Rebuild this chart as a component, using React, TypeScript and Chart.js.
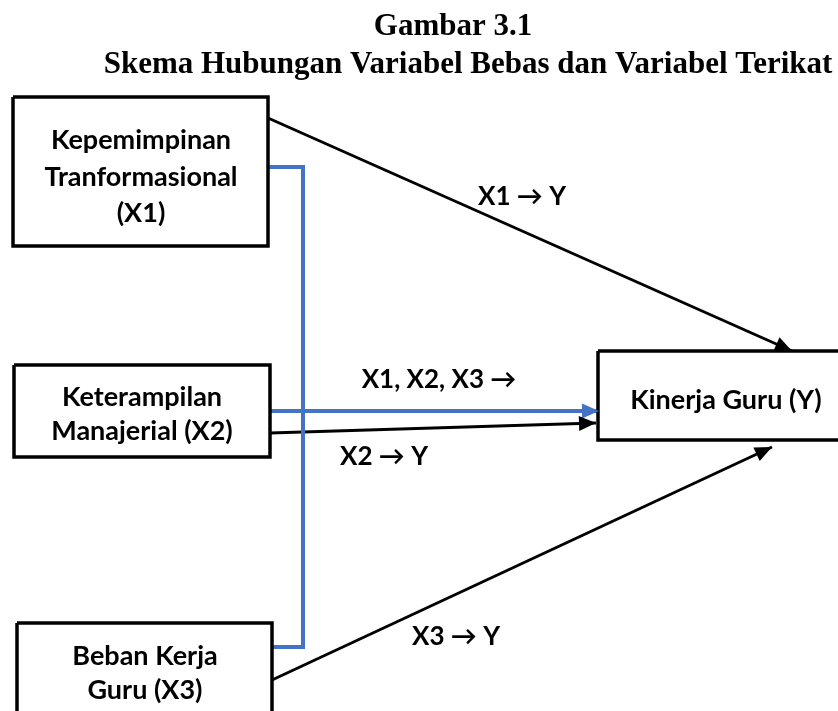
import React, { useEffect, useRef } from "react";
import { Chart, registerables } from "chart.js";

Chart.register(...registerables);

// Diagram nodes (box corners, in diagram units = canvas px space 838x711)
const boxNames = ["X1", "X2", "X3", "Y"];
const boxLeft = [13, 14, 17, 598];
const boxRight = [268, 270, 272, 850];
const boxTop = [97, 365, 623, 351];
const boxBottom = [246, 457, 725, 440];

// Box texts
const boxTextLines = [
  ["Kepemimpinan", "Tranformasional", "(X1)"],
  ["Keterampilan", "Manajerial (X2)"],
  ["Beban Kerja", "Guru (X3)"],
  ["Kinerja Guru (Y)"],
];
const boxTextCenterX = [141, 142, 145, 726];
const boxTextLineY = [
  [140, 177, 213],
  [397, 431],
  [656, 690],
  [400],
];

// Black arrows (partial relationships)
const arrowNames = ["X1 → Y", "X2 → Y", "X3 → Y"];
const arrowFromX = [268, 270, 272];
const arrowFromY = [118, 433, 680];
const arrowToX = [792, 596, 772];
const arrowToY = [351, 423, 447];

// Blue bracket (simultaneous relationship)
const bracketX = [268, 303, 303, 272];
const bracketY = [167, 167, 647, 647];
const simX = [270, 599];
const simY = [411, 411];

// Edge labels
const edgeLabels = ["X1 → Y", "X1, X2, X3 →", "X2 → Y", "X3 → Y"];
const edgeLabelX = [522, 439, 384, 456];
const edgeLabelY = [197, 380, 457, 637];

// Titles
const titleLines = ["Gambar 3.1", "Skema Hubungan Variabel Bebas dan Variabel Terikat"];
const titleX = [453, 468];
const titleBaseY = [35, 73];

const BLACK = "#000000";
const BLUE = "#4472C4";

export default function App() {
  const ref = useRef<HTMLCanvasElement | null>(null);

  useEffect(() => {
    document.body.style.margin = "0";
    const canvas = ref.current;
    if (!canvas) return;

    const datasets: any[] = [];
    boxNames.forEach((n, i) => {
      datasets.push({
        label: "box " + n,
        data: [
          { x: boxLeft[i], y: boxTop[i] },
          { x: boxRight[i], y: boxTop[i] },
          { x: boxRight[i], y: boxBottom[i] },
          { x: boxLeft[i], y: boxBottom[i] },
          { x: boxLeft[i], y: boxTop[i] },
        ],
        borderColor: BLACK,
        borderWidth: 3.5,
        showLine: true,
        pointRadius: 0,
        fill: false,
        tension: 0,
        borderJoinStyle: "miter",
        backgroundColor: "#ffffff",
      });
    });
    datasets.push({
      label: "bracket",
      data: bracketX.map((x, i) => ({ x, y: bracketY[i] })),
      borderColor: BLUE,
      borderWidth: 4,
      showLine: true,
      pointRadius: 0,
      borderJoinStyle: "miter",
    });
    datasets.push({
      label: "X1, X2, X3 → Y",
      data: simX.map((x, i) => ({ x, y: simY[i] })),
      borderColor: BLUE,
      borderWidth: 4,
      showLine: true,
      pointRadius: 0,
      arrow: true,
    });
    arrowNames.forEach((n, i) => {
      datasets.push({
        label: n,
        data: [
          { x: arrowFromX[i], y: arrowFromY[i] },
          { x: arrowToX[i], y: arrowToY[i] },
        ],
        borderColor: BLACK,
        borderWidth: 3,
        showLine: true,
        pointRadius: 0,
        arrow: true,
      });
    });

    const arrowPlugin = {
      id: "arrowHeads",
      afterDatasetsDraw(chart: any) {
        const ctx = chart.ctx;
        chart.data.datasets.forEach((ds: any, di: number) => {
          if (!ds.arrow) return;
          const meta = chart.getDatasetMeta(di);
          const pts = meta.data;
          const a = pts[pts.length - 2];
          const b = pts[pts.length - 1];
          const ang = Math.atan2(b.y - a.y, b.x - a.x);
          const len = 17;
          const half = 7.5;
          ctx.save();
          ctx.fillStyle = ds.borderColor;
          ctx.beginPath();
          ctx.moveTo(b.x, b.y);
          ctx.lineTo(
            b.x - len * Math.cos(ang) + half * Math.sin(ang),
            b.y - len * Math.sin(ang) - half * Math.cos(ang)
          );
          ctx.lineTo(
            b.x - len * Math.cos(ang) - half * Math.sin(ang),
            b.y - len * Math.sin(ang) + half * Math.cos(ang)
          );
          ctx.closePath();
          ctx.fill();
          ctx.restore();
        });
      },
    };

    const textPlugin = {
      id: "diagramText",
      afterDraw(chart: any) {
        const ctx = chart.ctx;
        const xs = chart.scales.x;
        const ys = chart.scales.y;
        ctx.save();
        ctx.fillStyle = "#000";
        ctx.textAlign = "center";
        ctx.textBaseline = "middle";
        ctx.font = "bold 27px Lato, 'Open Sans', sans-serif";
        boxTextLines.forEach((lines, i) => {
          lines.forEach((t, j) => {
            ctx.fillText(t, xs.getPixelForValue(boxTextCenterX[i]), ys.getPixelForValue(boxTextLineY[i][j]));
          });
        });
        ctx.font = "bold 26px Lato, 'Open Sans', sans-serif";
        edgeLabels.forEach((t, i) => {
          ctx.fillText(t, xs.getPixelForValue(edgeLabelX[i]), ys.getPixelForValue(edgeLabelY[i]));
        });
        ctx.textBaseline = "alphabetic";
        ctx.font = "bold 31px 'Liberation Serif', 'DejaVu Serif', serif";
        titleLines.forEach((t, i) => {
          ctx.fillText(t, xs.getPixelForValue(titleX[i]), ys.getPixelForValue(titleBaseY[i]));
        });
        ctx.restore();
      },
    };

    const chart = new Chart(canvas, {
      type: "scatter",
      data: { datasets },
      options: {
        animation: false,
        responsive: false,
        maintainAspectRatio: false,
        layout: { padding: 0 },
        plugins: { legend: { display: false }, tooltip: { enabled: false }, title: { display: false } },
        scales: {
          x: { type: "linear", min: 0, max: 838, display: false },
          y: { type: "linear", min: 0, max: 711, reverse: true, display: false },
        },
      },
      plugins: [arrowPlugin, textPlugin],
    } as any);

    return () => chart.destroy();
  }, []);

  return (
    <div style={{ width: 838, height: 711, background: "#fff" }}>
      <canvas ref={ref} width={838} height={711} style={{ display: "block" }} />
    </div>
  );
}
